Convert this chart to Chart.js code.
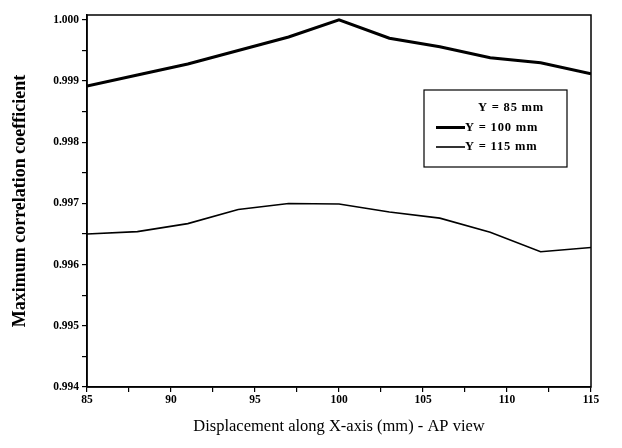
<!DOCTYPE html>
<html>
<head>
<meta charset="utf-8">
<script src="https://cdn.jsdelivr.net/npm/chart.js@4/dist/chart.umd.min.js"></script>
<style>
  html, body { margin: 0; padding: 0; background: #fff; }
  #wrap { width: 622px; height: 448px; }
</style>
</head>
<body>
<div id="wrap"><canvas id="chart"></canvas></div>
<script>
// displacement along X (mm), 3 mm steps
const displacement = [85, 88, 91, 94, 97, 100, 103, 106, 109, 112, 115];

// maximum correlation coefficient per Y position
const corrY85 = [];
const corrY100 = [0.99892, 0.99910, 0.99928, 0.99950, 0.99972, 1.00000, 0.99970, 0.99956, 0.99938, 0.99930, 0.99912];
const corrY115 = [0.99650, 0.99654, 0.99667, 0.99690, 0.99700, 0.99699, 0.99686, 0.99676, 0.99653, 0.99621, 0.99628];

// tick positions (major ones get a label)
const xTicks = [85, 87.5, 90, 92.5, 95, 97.5, 100, 102.5, 105, 107.5, 110, 112.5, 115];
const xTickLabels = [85, 90, 95, 100, 105, 110, 115];
const yTicks = [0.994, 0.9945, 0.995, 0.9955, 0.996, 0.9965, 0.997, 0.9975, 0.998, 0.9985, 0.999, 0.9995, 1.000];
const yTickLabels = [0.994, 0.995, 0.996, 0.997, 0.998, 0.999, 1.000];

const serif = '"Liberation Serif", "DejaVu Serif", serif';

const toPoints = (ys) => ys.map((y, i) => ({ x: displacement[i], y }));
const isMajor = (v, list) => list.some(m => Math.abs(m - v) < 1e-7);

// box around the plot area
const framePlugin = {
    id: 'frame',
    afterDraw(chart) {
        const { ctx, chartArea: a } = chart;
        ctx.save();
        ctx.strokeStyle = '#000';
        ctx.lineWidth = 1.5;
        ctx.strokeRect(a.left, a.top, a.right - a.left, a.bottom - a.top);
        ctx.restore();
    }
};

// legend box inside the plot, line sample drawn only when the series has a stroke
const boxLegend = {
    id: 'boxLegend',
    afterDraw(chart) {
        const { ctx } = chart;
        const x0 = 424, y0 = 90, w = 143, h = 77;
        ctx.save();
        ctx.fillStyle = '#fff';
        ctx.fillRect(x0, y0, w, h);
        ctx.strokeStyle = '#000';
        ctx.lineWidth = 1.2;
        ctx.strokeRect(x0, y0, w, h);
        ctx.font = 'bold 12.5px ' + serif;
        ctx.letterSpacing = '0.8px';
        ctx.textBaseline = 'middle';
        ctx.fillStyle = '#000';
        chart.data.datasets.forEach((ds, i) => {
            const yy = y0 + 18 + i * 19.5;
            if (ds.borderWidth > 0) {
                ctx.lineWidth = ds.borderWidth;
                ctx.beginPath();
                ctx.moveTo(x0 + 12, yy);
                ctx.lineTo(x0 + 41, yy);
                ctx.stroke();
            }
            ctx.fillText(ds.label, i === 0 ? x0 + 54 : x0 + 41, yy);
        });
        ctx.restore();
    }
};

new Chart(document.getElementById('chart'), {
    type: 'line',
    data: {
        datasets: [
            { label: 'Y = 85 mm', data: toPoints(corrY85), borderColor: '#000', borderWidth: 0 },
            { label: 'Y = 100 mm', data: toPoints(corrY100), borderColor: '#000', borderWidth: 3 },
            { label: 'Y = 115 mm', data: toPoints(corrY115), borderColor: '#000', borderWidth: 1.6 }
        ]
    },
    options: {
        responsive: true,
        maintainAspectRatio: false,
        animation: false,
        layout: { padding: { top: 15, right: 31, left: 0, bottom: 0 } },
        elements: { point: { radius: 0 }, line: { tension: 0, fill: false } },
        plugins: { legend: { display: false }, tooltip: { enabled: false } },
        scales: {
            x: {
                type: 'linear',
                min: 85,
                max: 115,
                afterBuildTicks: (s) => { s.ticks = xTicks.map(v => ({ value: v })); },
                afterFit: (s) => { s.height = 61; },
                grid: { drawOnChartArea: false, drawTicks: true, tickLength: 5, color: '#000', lineWidth: 1.2 },
                border: { display: true, color: '#000', width: 1.5 },
                ticks: {
                    autoSkip: false,
                    maxRotation: 0,
                    padding: 1,
                    color: '#000',
                    font: { family: serif, size: 11.5, weight: 'bold' },
                    callback: (v) => isMajor(v, xTickLabels) ? String(v) : ''
                },
                title: {
                    display: true,
                    text: 'Displacement along X-axis (mm) - AP view',
                    color: '#000',
                    font: { family: serif, size: 16.5 },
                    padding: { top: 3, bottom: 11 }
                }
            },
            y: {
                min: 0.994,
                max: 1.00008,
                afterBuildTicks: (s) => { s.ticks = yTicks.map(v => ({ value: v })); },
                afterFit: (s) => { s.width = 87; },
                grid: { drawOnChartArea: false, drawTicks: true, tickLength: 5, color: '#000', lineWidth: 1.2 },
                border: { display: true, color: '#000', width: 1.5 },
                ticks: {
                    autoSkip: false,
                    padding: 3,
                    color: '#000',
                    font: { family: serif, size: 11.5, weight: 'bold' },
                    callback: (v) => isMajor(v, yTickLabels) ? v.toFixed(3) : ''
                },
                title: {
                    display: true,
                    text: 'Maximum correlation coefficient',
                    color: '#000',
                    font: { family: serif, size: 18, weight: 'bold' },
                    padding: { top: 10 }
                }
            }
        }
    },
    plugins: [framePlugin, boxLegend]
});
</script>
</body>
</html>
